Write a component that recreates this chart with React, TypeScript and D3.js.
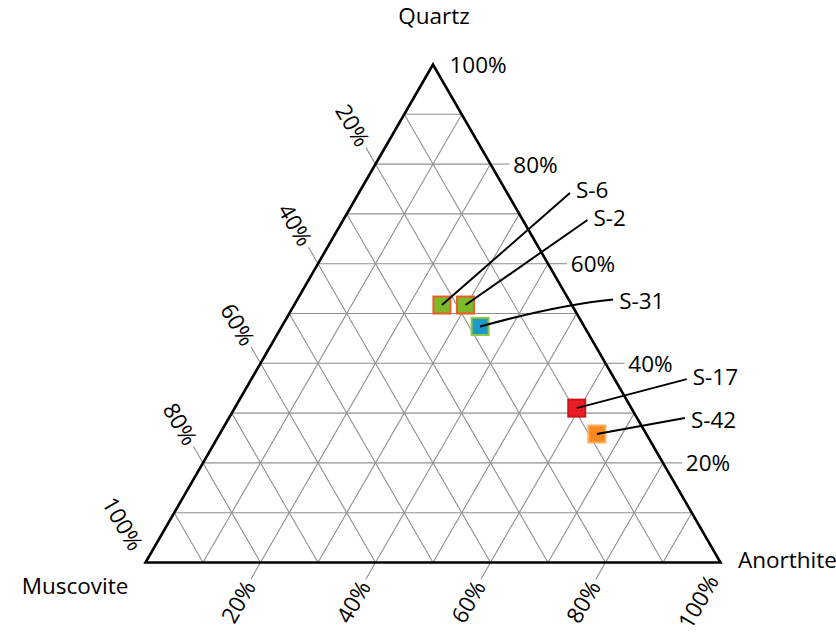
import React from "react";
import * as d3 from "d3";

// ---- data ----
const sampleNames = ["S-6", "S-2", "S-31", "S-17", "S-42"];
const quartz = [51.7, 51.7, 47.4, 31.0, 25.8];
const anorthite = [25.7, 29.8, 34.5, 59.5, 65.6];
const muscovite = [22.6, 18.5, 18.1, 9.5, 8.6];
const fillColors = ["#7cba27", "#7cba27", "#1b9ac9", "#ec1c24", "#f7891e"];
const strokeColors = ["#f15a29", "#f15a29", "#8dc63f", "#c8161d", "#fbae5c"];
const tickValues = [20, 40, 60, 80, 100];
const gridValues = [10, 20, 30, 40, 50, 60, 70, 80, 90];
const axisNames = ["Quartz", "Muscovite", "Anorthite"];

// label leader layout (offsets relative to the point; layout only)
const leaderDx = [128, 122, 133, 110, 88];
const leaderDy = [-112, -85, -27, -29, -16];
const leaderCurve = [null, null, [80, -22], null, null] as (number[] | null)[];
const labelDy = [-4, -3, 1, -3, 1];

const W = 836;
const H = 643;
const FONT = "'Open Sans', sans-serif";
const FS = 22.5;

export default function App() {
  const sx = d3.scaleLinear().domain([0, 1]).range([145.5, 720.5]);
  const sy = d3.scaleLinear().domain([0, 1]).range([562.5, 64.5]);
  // q: quartz fraction, a: anorthite fraction (muscovite = 1 - q - a)
  const pt = (q: number, a: number): [number, number] => [sx(a + q / 2), sy(q)];
  const line = d3.line();

  const grid: [number, number][][] = [];
  gridValues.forEach((v) => {
    const t = v / 100;
    grid.push([pt(t, 0), pt(t, 1 - t)]); // quartz const
    grid.push([pt(0, t), pt(1 - t, t)]); // anorthite const
    grid.push([pt(0, 1 - t), pt(1 - t, 0)]); // muscovite const
  });

  const tickLen = 19;
  const labelOff = 45;
  const s3 = Math.sqrt(3) / 2;
  type Tick = { p: [number, number]; dir: [number, number]; label: string; rot: number; tick: boolean };
  const ticks: Tick[] = [];
  tickValues.forEach((v) => {
    const t = v / 100;
    ticks.push({ p: pt(t, 1 - t), dir: [1, 0], label: v + "%", rot: 0, tick: v < 100 });
    ticks.push({ p: pt(1 - t, 0), dir: [-0.5, -s3], label: v + "%", rot: 60, tick: v < 100 });
    ticks.push({ p: pt(0, t), dir: [-0.5, s3], label: v + "%", rot: -60, tick: v < 100 });
  });

  const corners = [pt(1, 0), pt(0, 0), pt(0, 1)];
  const size = 17;
  const gridColor = "#8f8f8f";

  return (
    <svg width={W} height={H} style={{ position: "absolute", left: 0, top: 0, background: "#fff" }} fontFamily={FONT}>
      <g>
        {grid.map((g, i) => (
          <path key={"g" + i} d={line(g) || ""} stroke={gridColor} strokeWidth={1.1} fill="none" />
        ))}
        {ticks.map((t, i) => (
          <g key={"t" + i}>
            {t.tick && (
              <line
                x1={t.p[0]}
                y1={t.p[1]}
                x2={t.p[0] + t.dir[0] * tickLen}
                y2={t.p[1] + t.dir[1] * tickLen}
                stroke={gridColor}
                strokeWidth={1.1}
              />
            )}
            <text
              transform={`translate(${t.p[0] + t.dir[0] * labelOff},${t.p[1] + t.dir[1] * labelOff}) rotate(${t.rot})`}
              textAnchor="middle"
              dominantBaseline="central"
              fontSize={FS}
              fill="#000"
            >
              {t.label}
            </text>
          </g>
        ))}
        <path d={(line([...corners, corners[0]]) || "") + "Z"} fill="none" stroke="#000" strokeWidth={2.6} strokeLinejoin="miter" />
      </g>
      <text x={corners[0][0] + 1} y={24} textAnchor="middle" fontSize={FS}>{axisNames[0]}</text>
      <text x={75} y={594} textAnchor="middle" fontSize={FS}>{axisNames[1]}</text>
      <text x={738} y={568} textAnchor="start" fontSize={FS}>{axisNames[2]}</text>
      <g>
        {sampleNames.map((n, i) => {
          const [x, y] = pt(quartz[i] / 100, anorthite[i] / 100);
          const ex = x + leaderDx[i];
          const ey = y + leaderDy[i];
          const c = leaderCurve[i];
          let d: string;
          if (c) {
            const p = d3.path();
            p.moveTo(x, y);
            p.quadraticCurveTo(x + c[0], y + c[1], ex, ey);
            d = p.toString();
          } else {
            d = line([[x, y], [ex, ey]]) || "";
          }
          return (
            <g key={n}>
              <rect x={x - size / 2} y={y - size / 2} width={size} height={size} fill={fillColors[i]} stroke={strokeColors[i]} strokeWidth={2} />
              <path d={d} stroke="#000" strokeWidth={2} fill="none" />
              <text x={ex + 6} y={ey + labelDy[i]} dominantBaseline="central" fontSize={FS}>{n}</text>
            </g>
          );
        })}
      </g>
    </svg>
  );
}
